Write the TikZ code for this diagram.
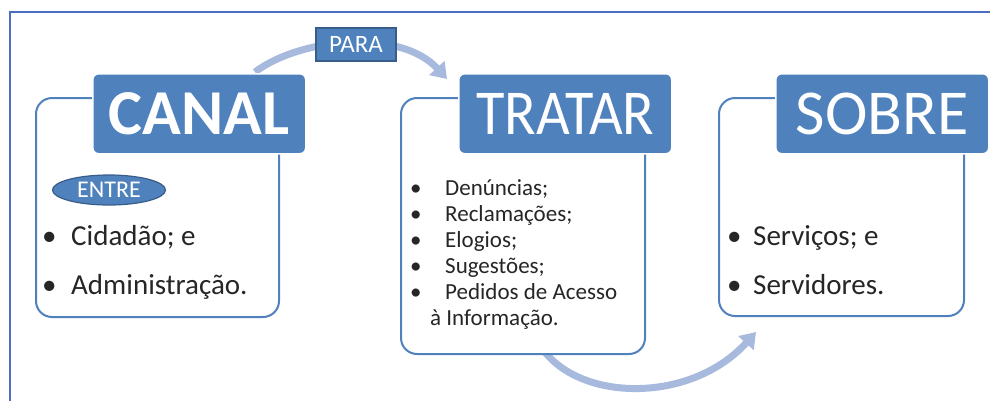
\documentclass[tikz,border=0pt]{standalone}
\usepackage{fontspec}
\setmainfont{Carlito}
\usetikzlibrary{arrows.meta,shapes.geometric}
\definecolor{obl}{HTML}{4F81BD}
\definecolor{odk}{HTML}{385D8A}
\definecolor{arr}{HTML}{A7BADD}
\definecolor{txt}{HTML}{262626}
\definecolor{frm}{HTML}{4A6FC0}
\begin{document}
\begin{tikzpicture}[x=1pt,y=-1pt,
  panel/.style={draw=obl, line width=2pt, fill=white, rounded corners=16pt, anchor=north west, inner sep=0pt},
  titlebox/.style={fill=obl, draw=white, line width=1.5pt, rounded corners=6pt, anchor=north west,
    minimum width=213pt, minimum height=80pt, inner sep=0pt, text=white, font=\fontsize{64}{64}\selectfont},
  tag/.style={fill=obl, draw=odk, line width=1.2pt, inner sep=0pt, text=white, font=\fontsize{25}{25}\selectfont},
  bigtxt/.style={anchor=base west, inner sep=0pt, text=txt, font=\fontsize{29}{29}\selectfont},
  smalltxt/.style={anchor=base west, inner sep=0pt, text=txt, font=\fontsize{23}{23}\selectfont},
  conn/.style={draw=arr, line width=7pt, -{Triangle[length=15pt,width=20pt]}}
]
\useasboundingbox (0,0) rectangle (990,400);
\fill[white] (0,0) rectangle (990,400);
% frame
\coordinate (fa) at (10,402);
\coordinate (fb) at (10,12);
\coordinate (fc) at (992,12);
\draw[frm, line width=2pt] (fa) -- (fb) -- (fc);

% connectors (behind)
\coordinate (a1s) at (255,72);
\coordinate (a1e) at (447,79);
\coordinate (a2s) at (540,345);
\coordinate (a2e) at (756,332);
\draw[conn] (a1s) .. controls (300,38) and (400,28) .. (a1e);
\draw[conn] (a2s) .. controls (575,402) and (690,405) .. (a2e);

% panels
\node[panel, minimum width=243pt, minimum height=219pt] (p1) at (35,97) {};
\node[panel, minimum width=244pt, minimum height=256pt] (p2) at (400,97) {};
\node[panel, minimum width=245pt, minimum height=218pt] (p3) at (718,97) {};

% titles
\node[titlebox, font=\fontsize{64}{64}\selectfont\bfseries] (t1) at (92,73) {CANAL};
\node[titlebox] (t2) at (458,73) {\scalebox{0.91}[1]{TRATAR}};
\node[titlebox] (t3) at (775,73) {SOBRE};

% tags
\node[tag, minimum width=80pt, minimum height=33pt] (para) at (356,44.5) {PARA};
\node[tag, ellipse, minimum width=113pt, minimum height=30pt, font=\fontsize{24}{24}\selectfont] (entre) at (109,190) {ENTRE};

% left panel text
\node[bigtxt] (b1a) at (42,245) {•};
\node[bigtxt] (l1a) at (71,245) {Cidadão; e};
\node[bigtxt] (b1b) at (42,294) {•};
\node[bigtxt] (l1b) at (71,294) {Administração.};

% middle panel text
\node[smalltxt] (b2a) at (410,195) {•};
\node[smalltxt] (l2a) at (445,195) {Denúncias;};
\node[smalltxt] (b2b) at (410,221) {•};
\node[smalltxt] (l2b) at (445,221) {Reclamações;};
\node[smalltxt] (b2c) at (410,247) {•};
\node[smalltxt] (l2c) at (445,247) {Elogios;};
\node[smalltxt] (b2d) at (410,273) {•};
\node[smalltxt] (l2d) at (445,273) {Sugestões;};
\node[smalltxt] (b2e) at (410,299) {•};
\node[smalltxt] (l2e) at (445,299) {Pedidos de Acesso};
\node[smalltxt] (l2f) at (430,325) {à Informação.};

% right panel text
\node[bigtxt] (b3a) at (727,245) {•};
\node[bigtxt] (l3a) at (753,245) {Serviços; e};
\node[bigtxt] (b3b) at (727,294) {•};
\node[bigtxt] (l3b) at (753,294) {Servidores.};
\end{tikzpicture}
\end{document}
